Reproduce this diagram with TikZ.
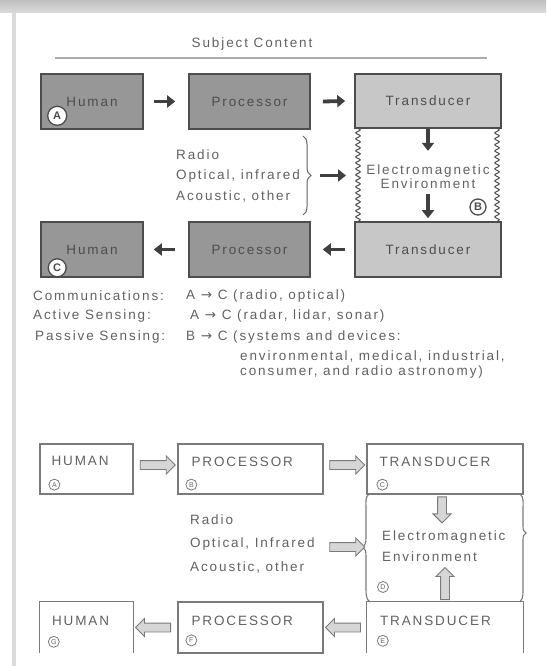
\documentclass[tikz,border=0pt]{standalone}
\usepackage{fontspec}
\setmainfont{Liberation Sans}[LetterSpace=14]
\newfontfamily\plainsans{Liberation Sans}
\newfontfamily\symfont{DejaVu Sans}
\usetikzlibrary{arrows.meta,shapes.arrows,decorations.pathmorphing,decorations.pathreplacing,calc}
\definecolor{ink}{HTML}{626262}
\definecolor{boxdark}{HTML}{979797}
\definecolor{boxlight}{HTML}{C7C7C7}
\definecolor{edge}{HTML}{4D4D4D}
\definecolor{arrowfill}{HTML}{D6D6D6}
\definecolor{arrowedge}{HTML}{7A7A7A}
\newcommand{\tto}{{\symfont →}}
\tikzset{
  darkbox/.style={draw=edge, line width=1.6pt, fill=boxdark, inner sep=0pt, text=edge},
  lightbox/.style={draw=edge, line width=1.6pt, fill=boxlight, inner sep=0pt, text=edge},
  blk/.style={draw=black!75, line width=3.8pt, -{Triangle[length=8pt,width=12pt]}},
  tag/.style={circle, draw=edge, line width=1.3pt, fill=white, inner sep=0pt,
    minimum size=#1, font=\plainsans\fontsize{11}{11}\selectfont\bfseries, text=edge},
  smalltag/.style={circle, draw=arrowedge, line width=0.8pt, fill=white, inner sep=0pt,
    minimum size=11pt, font=\plainsans\fontsize{7}{7}\selectfont, text=ink},
  plainbox/.style={draw=arrowedge, line width=1.3pt, inner sep=0pt},
  plainline/.style={draw=arrowedge, line width=1.3pt},
  label/.style={anchor=west, inner sep=0pt},
  wave/.style={draw=edge, line width=1pt, decorate, decoration={snake, amplitude=2.2pt, segment length=6pt}},
  hollow/.style={single arrow, draw=arrowedge, fill=arrowfill, line width=0.9pt,
    inner xsep=0pt, inner ysep=4pt, minimum height=#1,
    single arrow head extend=4.5pt, shape border rotate=0},
  vhollow/.style={hollow=#1, inner xsep=4pt, inner ysep=0pt},
}
\begin{document}
\begin{tikzpicture}[x=1pt, y=-1pt, font=\fontsize{13.5}{20.5}\selectfont, text=ink]
\useasboundingbox (0,0) rectangle (546,666);
\fill[white] (0,0) rectangle (546,666);
% page frame
\shade[top color=gray!50, bottom color=gray!28] (0,0) rectangle (546,13);
\fill[gray!28] (12,13) rectangle (16,666);

% ---------- upper diagram ----------
\node (title) at (252,44) {Subject Content};
\coordinate (rulel) at (55,58);
\coordinate (ruler) at (487,58);
\draw[line width=2pt, gray!65] (rulel) -- (ruler);

\node[darkbox, minimum width=102pt, minimum height=55pt] (humA) at (92,101.5) {Human};
\node[darkbox, minimum width=121pt, minimum height=55pt] (procA) at (249.5,101.5) {Processor};
\node[lightbox, minimum width=146pt, minimum height=54pt] (tranA) at (428,101) {Transducer};

\node[darkbox, minimum width=102pt, minimum height=55pt] (humC) at (92,249.5) {Human};
\node[darkbox, minimum width=121pt, minimum height=55pt] (procC) at (249.5,249.5) {Processor};
\node[lightbox, minimum width=146pt, minimum height=55pt] (tranC) at (428,249.5) {Transducer};

\coordinate (wl1) at (358,128);
\coordinate (wl2) at (358,222);
\coordinate (wr1) at (497,128);
\coordinate (wr2) at (497,222);
\coordinate (wm) at (358,175.5);
\draw[wave] (wl1) -- (wl2);
\draw[wave] (wr1) -- (wr2);

\node[align=center, inner sep=0pt, font=\fontsize{13.5}{14}\selectfont] (emA) at (428,177) {Electromagnetic\\Environment};

\draw[blk] ($(humA.east)+(10,0)$) -- ($(procA.west)+(-13,0)$);
\draw[blk] ($(procA.east)+(12,0)$) -- ($(tranA.west)+(-9,0)$);
\draw[blk] (tranA.south) -- ++(0,22);
\draw[blk] ($(tranC.north)+(0,-27)$) -- ($(tranC.north)+(0,-3)$);
\draw[blk] ($(procC.west)+(-13,0)$) -- ($(humC.east)+(10,0)$);
\draw[blk] ($(tranC.west)+(-9,0)$) -- ($(procC.east)+(12,0)$);

\node[label, align=left] (mediaA) at (176,175.5) {Radio\\Optical, infrared\\Acoustic, other};
\coordinate (bra1) at (303,136);
\coordinate (bra2) at (303,215);
\coordinate (bt) at (311,175.5);
\draw[ink, line width=1pt, decorate, decoration={brace, amplitude=8pt}] (bra1) -- (bra2);
\draw[blk] ($(bt)+(9,0)$) -- ($(wm)+(-12,0)$);

\node[tag=19pt] (tA) at ($(humA.south west)+(17,-14)$) {A};
\node[tag=16pt] (tB) at (478,207) {B};
\node[tag=18pt] (tC) at ($(humC.south west)+(17,-10)$) {C};

% ---------- legend ----------
\node[label] (comm) at (33,296) {Communications:};
\node[label] (commv) at (186,296) {A \tto\ C (radio, optical)};
\node[label] (act) at (33,316) {Active Sensing:};
\node[label] (actv) at (190,316) {A \tto\ C (radar, lidar, sonar)};
\node[label] (pas) at (35,337) {Passive Sensing:};
\node[label] (pasv) at (186,337) {B \tto\ C (systems and devices:};
\node[label] (pasv2) at (240,356) {environmental, medical, industrial,};
\node[label] (pasv3) at (240,372) {consumer, and radio astronomy)};

% ---------- lower diagram ----------
\node[plainbox, minimum width=93pt, minimum height=50pt] (hl1) at (86.5,469) {};
\node[plainbox, minimum width=145pt, minimum height=50pt] (pl1) at (250.5,469) {};
\node[plainbox, minimum width=156pt, minimum height=50pt] (tl1) at (445,469) {};
\node[label] at ($(hl1.north west)+(12,18)$) {HUMAN};
\node[label] at ($(pl1.north west)+(14,18)$) {PROCESSOR};
\node[label] at ($(tl1.north west)+(13,18)$) {TRANSDUCER};
\node[smalltag] at ($(hl1.south west)+(15,-10)$) {A};
\node[smalltag] at ($(pl1.south west)+(14,-10)$) {B};
\node[smalltag] at ($(tl1.south west)+(16,-10)$) {C};

\node[inner sep=0pt, minimum width=93pt, minimum height=51pt] (hl2) at (86.5,627.5) {};
\node[plainbox, minimum width=145pt, minimum height=51pt] (pl2) at (250.5,627.5) {};
\node[inner sep=0pt, minimum width=156pt, minimum height=51pt] (tl2) at (445,627.5) {};
\draw[plainline] (hl2.south west) |- (hl2.north east) -- (hl2.south east);
\draw[plainline] (tl2.south west) |- (tl2.north east) -- (tl2.south east);
\node[label] at ($(hl2.north west)+(12,19)$) {HUMAN};
\node[label] at ($(pl2.north west)+(14,19)$) {PROCESSOR};
\node[label] at ($(tl2.north west)+(13,19)$) {TRANSDUCER};
\node[smalltag] at ($(hl2.north west)+(14,40)$) {G};
\node[smalltag] at ($(pl2.north west)+(14,39)$) {F};
\node[smalltag] at ($(tl2.north west)+(16,39)$) {E};

% electromagnetic environment outline
\coordinate (emnw) at (369,494);
\coordinate (emsw) at (370,602);
\coordinate (emne) at (520,494);
\coordinate (emse) at (520,602);
\draw[plainline, line width=1.1pt] (emnw) .. controls (365,497) and (366,502) .. (366,508) -- (366,538)
  .. controls (366,543) and (365,545) .. (363,547) .. controls (365,549) and (366,551) .. (366,556)
  -- (366,590) .. controls (366,596) and (367,600) .. (emsw);
\draw[plainline, line width=1.1pt] (emne) .. controls (524,497) and (523,502) .. (523,508) -- (523,526)
  .. controls (523,530) and (524,532) .. (526,533) .. controls (524,534) and (523,536) .. (523,540)
  -- (523,592) .. controls (523,597) and (522,600) .. (emse);
\node[label, align=left, font=\fontsize{13.5}{21}\selectfont] (emB) at (382,546.5) {Electromagnetic\\Environment};
\node[smalltag] at (383,587) {D};

\node[label, align=left, font=\fontsize{13.5}{23.5}\selectfont] (mediaB) at (190,543.5) {Radio\\Optical, Infrared\\Acoustic, other};

% hollow arrows
\node[hollow=35pt] (ha1) at ($($(hl1.east)!0.5!(pl1.west)$)+(0,-4)$) {};
\node[hollow=35pt] (ha2) at ($($(pl1.east)!0.5!(tl1.west)$)+(0,-4)$) {};
\node[hollow=35pt] (ha3) at ($(emnw)+(-24,53)$) {};
\node[vhollow=26pt, shape border rotate=270] (ha4) at ($(tl1.south)+(-3,13)$) {};
\node[vhollow=32pt, shape border rotate=90] (ha5) at ($(tl2.north)+(0,-16)$) {};
\node[hollow=35pt, shape border rotate=180] (ha6) at ($(pl2.east)!0.5!(tl2.west)$) {};
\node[hollow=35pt, shape border rotate=180] (ha7) at ($(hl2.east)!0.5!(pl2.west)$) {};
\end{tikzpicture}
\end{document}
